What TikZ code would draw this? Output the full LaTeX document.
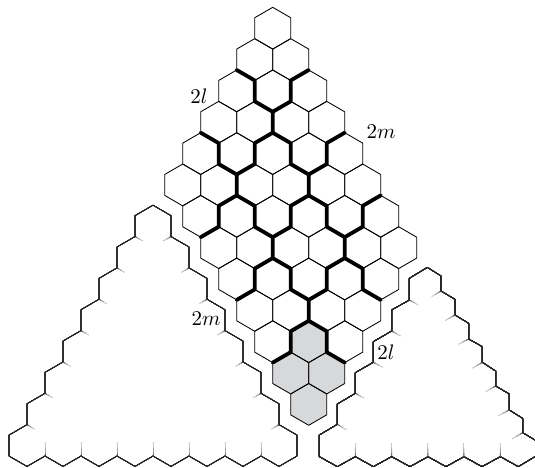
\documentclass[tikz,border=0pt]{standalone}
\usetikzlibrary{calc}
\definecolor{hexgray}{RGB}{215,216,218}
\tikzset{
  hex line/.style={line width=0.85pt,color=black,line join=round,line cap=round},
  outline/.style={line width=0.7pt,color=black!85,line join=round,line cap=round},
  bold line/.style={line width=3.8pt,color=black,line join=round,line cap=round},
  lab/.style={inner sep=0pt,scale=2.1}
}
\newcommand{\hexpath}[2]{(#1,#2) -- ++(1,1) -- ++(0,2) -- ++(-1,1) -- ++(-1,-1) -- ++(0,-2) -- cycle}
\newcommand{\stub}[2]{%
  \draw[line width=1pt,black!22] (#1) -- ($(#1)!1!(#2)$);
  \draw[line width=1pt,black!35] (#1) -- ($(#1)!0.6!(#2)$);
  \draw[line width=1pt,black!55] (#1) -- ($(#1)!0.25!(#2)$);
}
\begin{document}
\begin{tikzpicture}[x=1pt,y=-1pt]
\useasboundingbox (0,0) rectangle (535,468);
\clip (0,0) rectangle (535,468);
% rhombus
\begin{scope}[shift={(272.7,7.3)},x=18pt,y=-10.45pt]
  \foreach \hx/\hy in {2/30,1/33,3/33,2/36}
    \fill[hexgray] \hexpath{\hx}{\hy};
  \foreach \i in {0,...,7}
    \foreach \j in {0,...,5} {
      \pgfmathtruncatemacro{\ha}{\i-\j}
      \pgfmathtruncatemacro{\hn}{3*(\i+\j)}
      \draw[hex line] \hexpath{\ha}{\hn};
    }
  \draw[bold line]
    (-2,6) -- (-1,7) -- (-1,9) -- (0,10) -- (0,12)
    (2,6) -- (1,7) -- (1,9) -- (0,10)
    (-4,12) -- (-3,13) -- (-3,15) -- (-2,16) -- (-2,18)
    (0,12) -- (-1,13) -- (-1,15) -- (-2,16)
    (0,12) -- (1,13) -- (1,15) -- (2,16) -- (2,18)
    (4,12) -- (3,13) -- (3,15) -- (2,16)
    (-4,22) -- (-3,21) -- (-3,19) -- (-2,18) -- (-1,19) -- (-1,21) -- (0,22) -- (1,21) -- (1,19) -- (2,18) -- (3,19) -- (3,21) -- (4,22) -- (5,21) -- (5,19) -- (6,18)
    (0,22) -- (0,24) (4,22) -- (4,24)
    (-2,28) -- (-1,27) -- (-1,25) -- (0,24) -- (1,25) -- (1,27) -- (2,28) -- (3,27) -- (3,25) -- (4,24) -- (5,25) -- (5,27) -- (6,28)
    (2,28) -- (2,30)
    (0,34) -- (1,33) -- (1,31) -- (2,30) -- (3,31) -- (3,33) -- (4,34);
\end{scope}
% left triangle
\begin{scope}[shift={(153,205.2)},x=18pt,y=-10.45pt]
  \foreach \k in {1,...,7} {
    \pgfmathtruncatemacro{\sn}{3*\k}
    \stub{\k,\sn}{\k-0.43,\sn+0.43}
    \stub{-\k,\sn}{-\k+0.43,\sn+0.43}
  }
  \foreach \k in {-6,-4,...,6}
    \stub{\k,24}{\k,22.7}
  \draw[outline] (0,0)
    -- (1,1) -- (1,3) -- (2,4) -- (2,6) -- (3,7) -- (3,9) -- (4,10) -- (4,12)
    -- (5,13) -- (5,15) -- (6,16) -- (6,18) -- (7,19) -- (7,21) -- (8,22) -- (8,24)
    -- (7,25) -- (6,24) -- (5,25) -- (4,24) -- (3,25) -- (2,24) -- (1,25) -- (0,24)
    -- (-1,25) -- (-2,24) -- (-3,25) -- (-4,24) -- (-5,25) -- (-6,24) -- (-7,25) -- (-8,24)
    -- (-8,22) -- (-7,21) -- (-7,19) -- (-6,18) -- (-6,16) -- (-5,15) -- (-5,13) -- (-4,12)
    -- (-4,10) -- (-3,9) -- (-3,7) -- (-2,6) -- (-2,4) -- (-1,3) -- (-1,1) -- cycle;
\end{scope}
% right triangle
\begin{scope}[shift={(310,260)},x=0.3333pt,y=-0.3333pt]
  \foreach \sx/\sy/\tx/\ty in {298/120/325/135,245/213/272/228,190/307/218/322,136/400/163/415,82/493/110/510,
    393/93/365/110,435/165/405/182,476/237/445/253,517/307/487/325,557/378/527/395,598/450/565/467,638/518/606/537,
    136/590/136/548,245/590/245/548,354/590/354/548,462/590/462/548,571/590/571/548}
    \stub{\sx,\sy}{\tx,\ty}
  \draw[outline] (352,22) -- (393,48) -- (393,93) -- (435,118) -- (435,165) -- (476,190) -- (476,237)
    -- (517,260) -- (517,307) -- (557,333) -- (557,378) -- (598,402) -- (598,450) -- (638,475) -- (638,518) -- (690,549)
    (690,581) -- (625,620) -- (571,590) -- (516,620) -- (462,590) -- (408,620) -- (354,590) -- (300,620) -- (245,590) -- (190,620) -- (136,590) -- (82,620)
    -- (28,590) -- (28,525) -- (82,493) -- (82,432) -- (136,400) -- (136,338) -- (190,307) -- (190,245) -- (245,213) -- (245,150) -- (298,120) -- (298,55) -- (352,22);
\end{scope}
\node[lab] (l1) at (199,96) {$2l$};
\node[lab] (m1) at (381,132) {$2m$};
\node[lab] (m2) at (206,319) {$2m$};
\node[lab] (l2) at (386,352) {$2l$};
\end{tikzpicture}
\end{document}
